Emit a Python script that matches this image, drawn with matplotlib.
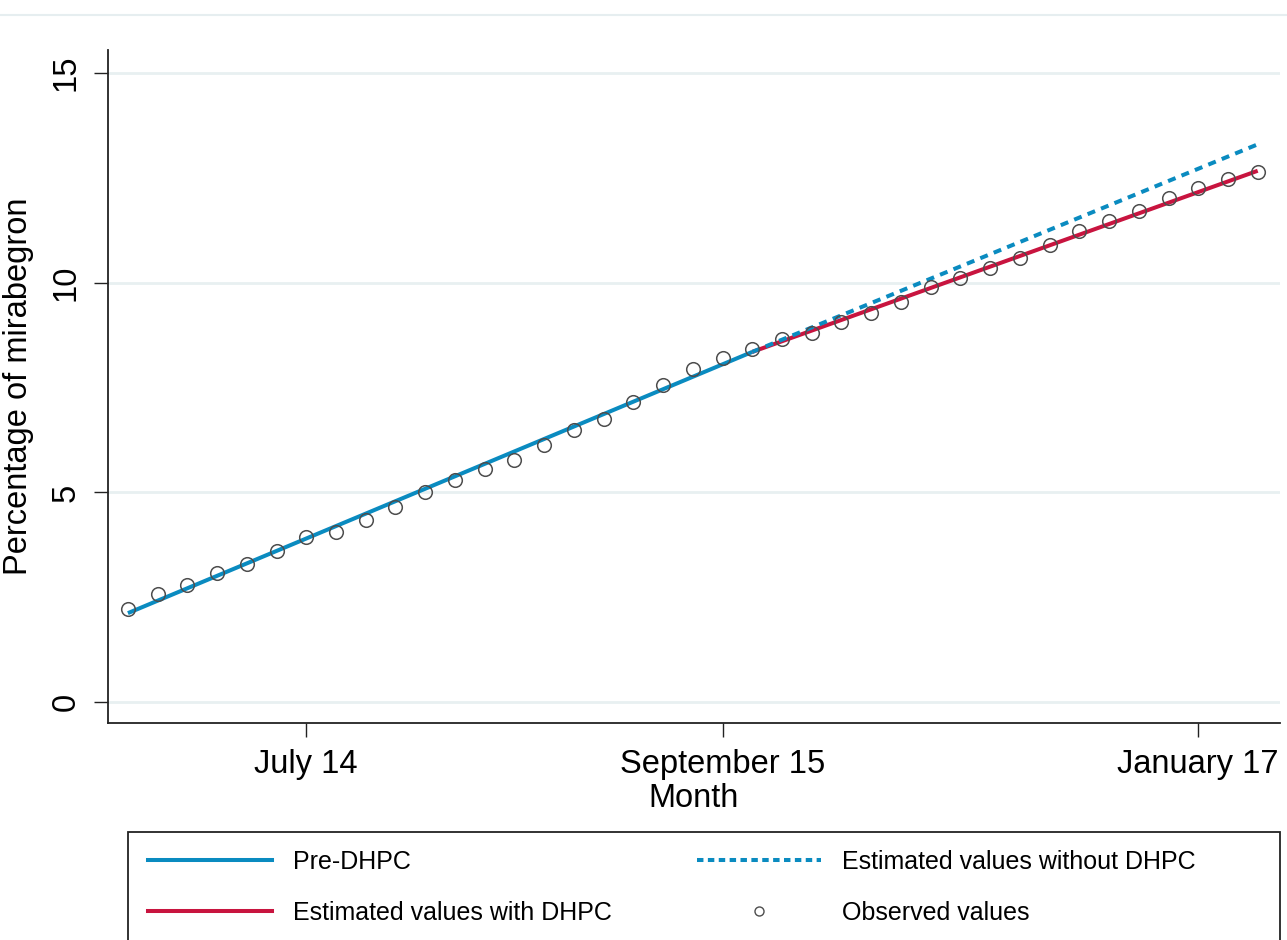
import matplotlib
matplotlib.use("Agg")
import matplotlib.pyplot as plt
from matplotlib.lines import Line2D
from matplotlib.patches import Rectangle

# months since January 2014
month = list(range(39))
observed = [2.22, 2.57, 2.79, 3.08, 3.29, 3.60, 3.93, 4.05, 4.34, 4.66,
            5.01, 5.29, 5.56, 5.78, 6.12, 6.49, 6.75, 7.15, 7.57, 7.94,
            8.20, 8.43, 8.65, 8.79, 9.07, 9.28, 9.53, 9.90, 10.11, 10.35,
            10.58, 10.90, 11.23, 11.47, 11.72, 12.02, 12.27, 12.48, 12.64]

# fitted segments (straight lines, endpoints)
pre_x = [0, 21]
pre_y = [2.12, 8.35]
post_x = [21, 38]
with_dhpc = [8.35, 12.67]
without_dhpc = [8.35, 13.30]

tick_pos = [6, 20, 36]
tick_labels = ["July 14", "September 15", "January 17"]

blue = "#0a8bc0"
red = "#c8143f"
grid_col = "#e8f0f1"

plt.rcParams["font.family"] = ["Liberation Sans", "DejaVu Sans"]

W, H = 1287, 940
fig = plt.figure(figsize=(W / 100, H / 100), dpi=100)
ax = fig.add_axes([108 / W, 1 - 723 / H, (1280 - 108) / W, (723 - 50) / H])

ax.plot(pre_x, pre_y, color=blue, lw=2.9, solid_capstyle="butt", zorder=3)
ax.plot(post_x, with_dhpc, color=red, lw=2.9, solid_capstyle="butt", zorder=3)
ax.plot(post_x, without_dhpc, color=blue, lw=2.9, dashes=(2.0, 1.6), zorder=3)
ax.plot(month, observed, ls="none", marker="o", ms=9.8, mfc="none",
        mec="#4d4d4d", mew=1.1, zorder=4)

ax.set_xlim(-0.67, 38.75)
ax.set_ylim(-0.5, 15.55)
ax.set_yticks([0, 5, 10, 15])
ax.set_yticklabels(["0", "5", "10", "15"], rotation=90, va="center")
ax.set_xticks(tick_pos)
ax.set_xticklabels(tick_labels)
ax.tick_params(axis="both", labelsize=23.5, length=10, width=1.0, color="#222222")
ax.tick_params(axis="y", pad=9)
ax.tick_params(axis="x", pad=9)
ax.grid(axis="y", color=grid_col, lw=2.0, zorder=0)
ax.set_axisbelow(True)
for s in ["top", "right"]:
    ax.spines[s].set_visible(False)
for s in ["left", "bottom"]:
    ax.spines[s].set_color("#222222")
    ax.spines[s].set_linewidth(1.3)

ax.set_ylabel("Percentage of mirabegron", fontsize=23.5, labelpad=12)
ax.set_xlabel("Month", fontsize=23.5, labelpad=2)

# thin rule along the top of the graph region
fig.add_artist(Line2D([0, 1], [1 - 15 / H, 1 - 15 / H], color="#e6eef0", lw=1.5))

# legend frame and entries
fig.add_artist(Rectangle((128 / W, 1 - 960 / H), (1280 - 128) / W, (960 - 832) / H,
                         transform=fig.transFigure, fill=False, ec="#222222", lw=1.3))
handles = [
    Line2D([], [], color=blue, lw=2.9),
    Line2D([], [], color=red, lw=2.9),
    Line2D([], [], color=blue, lw=2.9, dashes=(1.6, 1.1)),
    Line2D([], [], ls="none", marker="o", ms=6.5, mfc="none", mec="#4d4d4d", mew=1.0),
]
labels = ["Pre-DHPC", "Estimated values with DHPC",
          "Estimated values without DHPC", "Observed values"]
fig.legend(handles, labels, ncol=2, loc="upper left",
           bbox_to_anchor=(148 / W, 1 - 850 / H), frameon=False,
           prop={"size": 18},
           handlelength=4.96, handletextpad=0.84, columnspacing=3.4,
           labelspacing=1.07, borderpad=0.0, borderaxespad=0.0)

fig.savefig("out.png", dpi=100, facecolor="white")
